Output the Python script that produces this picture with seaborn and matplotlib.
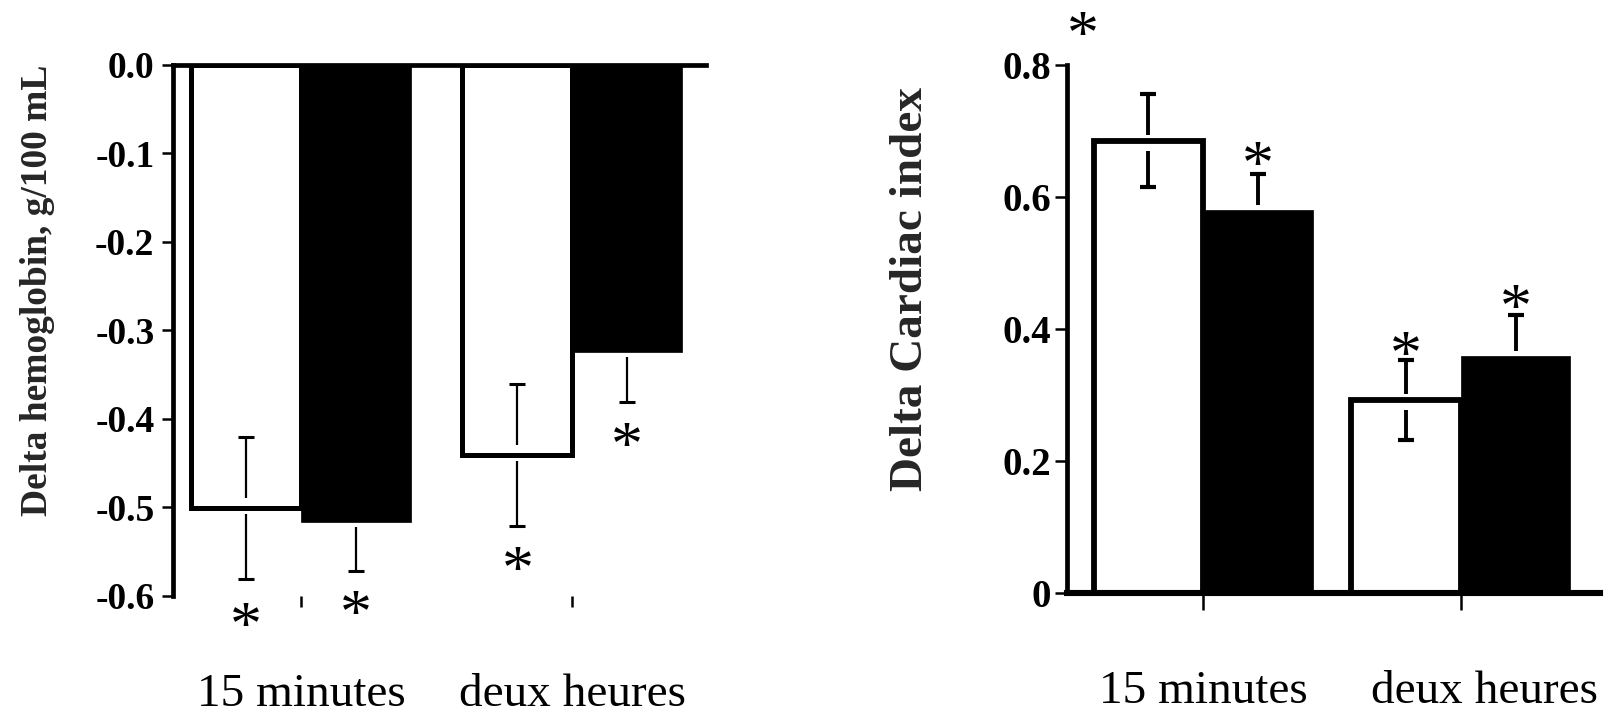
import numpy as np
import pandas as pd
import matplotlib
matplotlib.use("Agg")
import matplotlib.pyplot as plt
import seaborn as sns
from matplotlib.transforms import ScaledTranslation

# ---------------- data ----------------
categories = ["15 minutes", "deux heures"]
groups = ["Groupe A", "Groupe B"]

hb_white = [-0.501, -0.441]
hb_white_err = [0.080, 0.080]
hb_black = [-0.517, -0.325]
hb_black_err = [0.055, 0.056]
hb_yticks = [0.0, -0.1, -0.2, -0.3, -0.4, -0.5, -0.6]
hb_ytick_labels = ["0.0", "-0.1", "-0.2", "-0.3", "-0.4", "-0.5", "-0.6"]
hb_star_y = [-0.619, -0.606, -0.556, -0.416]

ci_white = [0.685, 0.292]
ci_white_err = [0.070, 0.060]
ci_black = [0.580, 0.358]
ci_black_err = [0.054, 0.062]
ci_yticks = [0, 0.2, 0.4, 0.6, 0.8]
ci_ytick_labels = ["0", "0.2", "0.4", "0.6", "0.8"]
ci_star_y = [0.864, 0.668, 0.380, 0.451]

# ---------------- style ----------------
sns.set_theme(style="white")
plt.rcParams["font.family"] = ["Liberation Serif", "DejaVu Serif"]
plt.rcParams["axes.edgecolor"] = "black"
plt.rcParams["xtick.color"] = "black"
plt.rcParams["ytick.color"] = "black"

fig = plt.figure(figsize=(16.08, 7.14), dpi=100)
ax1 = fig.add_axes([0.1073, 0.1653, 0.3318, 0.7443])
ax2 = fig.add_axes([0.6633, 0.1699, 0.3318, 0.7396])


def make_df(white, black):
    return pd.DataFrame({
        "temps": categories * 2,
        "groupe": [groups[0]] * len(categories) + [groups[1]] * len(categories),
        "valeur": list(white) + list(black),
    })


def px_to_data(ax, px):
    y0, y1 = ax.get_ylim()
    h = ax.get_position().height * fig.get_figheight() * fig.dpi
    return abs(y1 - y0) * px / h


def split_errorbar(ax, x, m, err, outward, gap_out, gap_in, lw, capsize, capthick,
                   inner=True):
    # outward: +1 if the bar extends upward (positive), -1 if downward
    ends = []
    # outer segment (outside bar)
    y_start = m + outward * gap_out
    y_end = m + outward * err
    ax.vlines(x, min(y_start, y_end), max(y_start, y_end), color="black", lw=lw,
              zorder=3)
    ends.append(y_end)
    if inner:
        y_start = m - outward * gap_in
        y_end = m - outward * err
        ax.vlines(x, min(y_start, y_end), max(y_start, y_end), color="black", lw=lw,
                  zorder=3)
        ends.append(y_end)
    ax.plot([x] * len(ends), ends, linestyle="none", marker="_", color="black",
            markersize=2 * capsize, markeredgewidth=capthick, zorder=3)


def draw_panel(ax, white, werr, black, berr, width, edge_lw, elw, capsize, capthick,
               star_y, ylim, xlim, outward, star_left_first=False):
    sns.barplot(data=make_df(white, black), x="temps", y="valeur", hue="groupe",
                order=categories, hue_order=groups, palette=["white", "black"],
                width=width, errorbar=None, legend=False, saturation=1, ax=ax)
    ax.set_ylim(*ylim)
    ax.set_xlim(*xlim)
    wc, bc = ax.containers[0], ax.containers[1]
    for p in wc:
        p.set_edgecolor("black")
        p.set_linewidth(edge_lw)
        p.set_zorder(1)
    for p in bc:
        p.set_edgecolor("black")
        p.set_linewidth(0.5)
        p.set_zorder(1.5)
    cw = [p.get_x() + p.get_width() / 2 for p in wc]
    cb = [p.get_x() + p.get_width() / 2 for p in bc]
    g_out = px_to_data(ax, 6)
    g_in = px_to_data(ax, 10)
    for x, m, e in zip(cw, white, werr):
        split_errorbar(ax, x, m, e, outward, g_out, g_in, elw, capsize, capthick)
    for x, m, e in zip(cb, black, berr):
        split_errorbar(ax, x, m, e, outward, px_to_data(ax, 5), 0, elw, capsize,
                       capthick, inner=False)
    xs = [cw[0], cb[0], cw[1], cb[1]]
    dx = [0, 0, 0, 0]
    if star_left_first:
        xs[0] = wc[0].get_x()
        dx[0] = -8
    for x, y, d in zip(xs, star_y, dx):
        ax.annotate("*", xy=(x, y), xytext=(d, -23), textcoords="offset points",
                    ha="center", va="baseline", fontsize=46, color="black",
                    annotation_clip=False)
    return wc, bc


# ---------------- left panel ----------------
draw_panel(ax1, hb_white, hb_white_err, hb_black, hb_black_err, width=0.81,
           edge_lw=3.6, elw=1.6, capsize=5.5, capthick=2.2, star_y=hb_star_y,
           ylim=(-0.6, 0.0), xlim=(-0.474, 1.493), outward=-1)
for s in ["bottom", "right"]:
    ax1.spines[s].set_visible(False)
for s in ["left", "top"]:
    ax1.spines[s].set_visible(True)
    ax1.spines[s].set_linewidth(3.4)
    ax1.spines[s].set_color("black")
ax1.set_yticks(hb_yticks, labels=hb_ytick_labels)
ax1.tick_params(axis="y", left=True, length=8, width=1.8, pad=5, labelsize=27)
for t in ax1.get_yticklabels():
    t.set_fontweight("bold")
ax1.tick_params(axis="x", bottom=True, top=False, length=8, width=1.8, pad=48, labelsize=34)
ax1.set_xlabel("")
ax1.set_ylabel("Delta hemoglobin, g/100 mL", fontsize=27, fontweight="bold")
ax1.yaxis.set_label_coords(-0.253, 0.576)
ax1.yaxis.label.set_va("center")

# ---------------- right panel ----------------
draw_panel(ax2, ci_white, ci_white_err, ci_black, ci_black_err, width=0.85,
           edge_lw=4.2, elw=2.8, capsize=6, capthick=3.0, star_y=ci_star_y,
           ylim=(0, 0.8), xlim=(-0.53, 1.54), outward=1, star_left_first=True)
for s in ["top", "right"]:
    ax2.spines[s].set_visible(False)
for s in ["left", "bottom"]:
    ax2.spines[s].set_visible(True)
    ax2.spines[s].set_color("black")
ax2.spines["left"].set_linewidth(3.4)
ax2.spines["bottom"].set_linewidth(4.4)
ax2.spines["bottom"].set_zorder(4)
ax2.set_yticks(ci_yticks, labels=ci_ytick_labels)
ax2.tick_params(axis="y", left=True, length=9, width=1.8, pad=2, labelsize=28)
for t in ax2.get_yticklabels():
    t.set_fontweight("bold")
ax2.tick_params(axis="x", bottom=True, length=12, width=1.8, pad=44, labelsize=34)
ax2.set_xlabel("")
ax2.set_ylabel("Delta Cardiac index", fontsize=34, fontweight="bold")
ax2.yaxis.set_label_coords(-0.292, 0.576)
ax2.yaxis.label.set_va("center")
lab = ax2.get_xticklabels()[1]
lab.set_transform(lab.get_transform() + ScaledTranslation(0.24, 0, fig.dpi_scale_trans))

fig.savefig("out.png", dpi=100)
